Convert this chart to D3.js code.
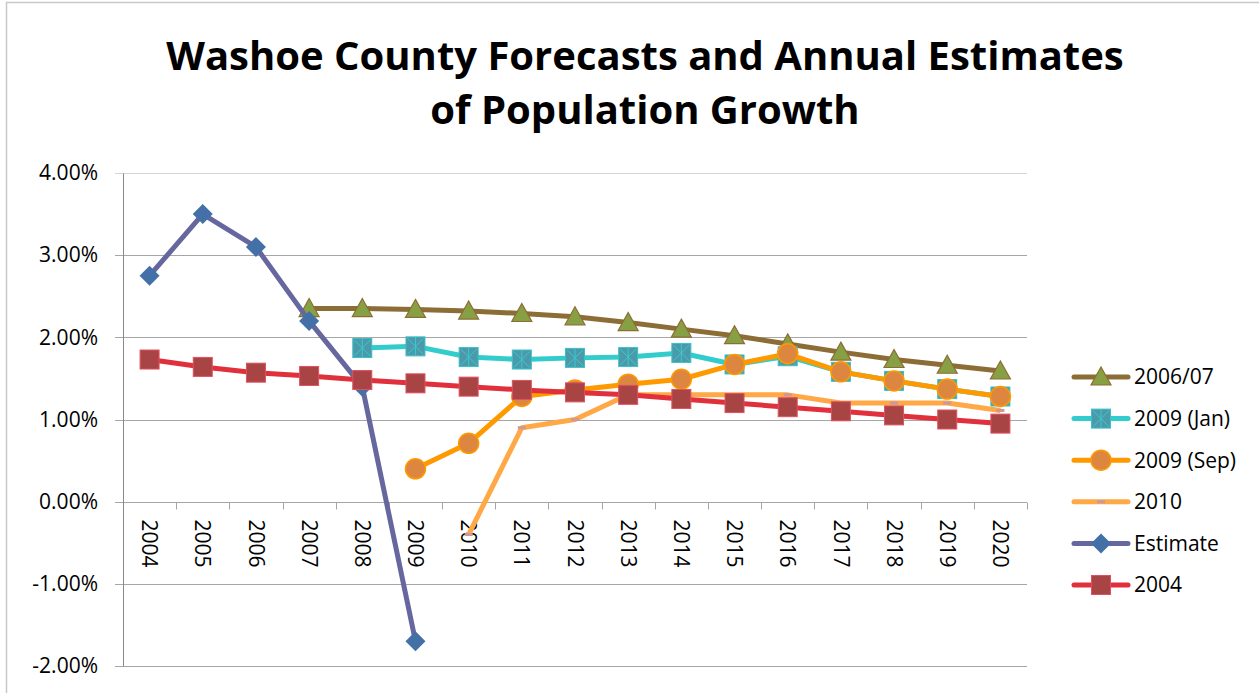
<!DOCTYPE html>
<html>
<head>
<meta charset="utf-8">
<script src="https://cdn.jsdelivr.net/npm/d3@7"></script>
<style>
	body { margin: 0; background: #fff; }
	svg { display: block; font-family: "Open Sans", Lato, sans-serif; }
	.axis text { font-family: "Open Sans", Lato, sans-serif; font-size: 21px; fill: #000; }
	.axis path, .axis line { stroke: #888; }
</style>
</head>
<body>
<svg width="1259" height="693"></svg>
<script>
var years = ["2004","2005","2006","2007","2008","2009","2010","2011","2012","2013","2014","2015","2016","2017","2018","2019","2020"];
var yTicks = [-0.02, -0.01, 0, 0.01, 0.02, 0.03, 0.04];

// null = no value for that year
var s200607 = [null,null,null,2.35,2.35,2.34,2.32,2.29,2.25,2.18,2.10,2.02,1.92,1.82,1.73,1.66,1.59];
var s2009jan = [null,null,null,null,1.87,1.89,1.76,1.73,1.75,1.76,1.81,1.67,1.77,1.58,1.47,1.37,1.28];
var s2009sep = [null,null,null,null,null,0.40,0.71,1.28,1.36,1.43,1.49,1.67,1.80,1.58,1.47,1.37,1.28];
var s2010 = [null,null,null,null,null,null,-0.40,0.90,1.00,1.30,1.30,1.30,1.30,1.20,1.20,1.20,1.11];
var sEstimate = [2.75,3.50,3.10,2.20,1.40,-1.70];
var s2004 = [1.73,1.64,1.57,1.53,1.48,1.44,1.40,1.36,1.33,1.30,1.25,1.20,1.15,1.10,1.05,1.00,0.95];

var series = [
	{ name: "2006/07", values: s200607, line: "#8c6d35", marker: "triangle", fill: "#88a044", stroke: "#8c6d35" },
	{ name: "2009 (Jan)", values: s2009jan, line: "#33cccc", marker: "xsquare", fill: "#4a9aaa", stroke: "#3cc0c8" },
	{ name: "2009 (Sep)", values: s2009sep, line: "#ff9900", marker: "circle", fill: "#dd8640", stroke: "#ff9900" },
	{ name: "2010", values: s2010, line: "#ffa845", marker: "dash", fill: "#cc9999", stroke: "none" },
	{ name: "Estimate", values: sEstimate, line: "#67679f", marker: "diamond", fill: "#4470a8", stroke: "none" },
	{ name: "2004", values: s2004, line: "#e0303c", marker: "square", fill: "#a84444", stroke: "#e05060" }
];

var svg = d3.select("svg");
var margin = { top: 173, left: 123, right: 1027, bottom: 666 };

// chart frame
svg.append("rect")
	.attr("x", 6.5).attr("y", 2.5)
	.attr("width", 1270).attr("height", 700)
	.attr("fill", "none").attr("stroke", "#c8c8c8").attr("stroke-width", 1.5);

// title
var title = svg.append("text")
	.attr("text-anchor", "middle")
	.style("font-size", "40px")
	.style("font-weight", "bold")
	.attr("fill", "#000");
title.append("tspan").attr("x", 645).attr("y", 70).text("Washoe County Forecasts and Annual Estimates");
title.append("tspan").attr("x", 645).attr("y", 124).text("of Population Growth");

var xScale = d3.scaleBand()
	.domain(years)
	.range([margin.left, margin.right]);

var yScale = d3.scaleLinear()
	.domain([-0.02, 0.04])
	.range([margin.bottom, margin.top]);

// gridlines
svg.append("g")
	.selectAll("line")
	.data(yTicks)
	.join("line")
	.attr("x1", margin.left - 8)
	.attr("x2", margin.right)
	.attr("y1", function (d) { return Math.round(yScale(d)) + 0.5; })
	.attr("y2", function (d) { return Math.round(yScale(d)) + 0.5; })
	.attr("stroke", function (d) { return d === 0.04 ? "#d4d4d4" : "#a6a6a6"; })
	.attr("stroke-width", 1.2);

var yAxis = d3.axisLeft(yScale)
	.tickValues(yTicks)
	.tickFormat(function (d) { return (d * 100).toFixed(2) + "%"; })
	.tickSize(0)
	.tickPadding(25);

svg.append("g")
	.attr("class", "axis")
	.attr("transform", "translate(" + margin.left + ",0)")
	.call(yAxis)
	.call(function (g) { g.select(".domain").attr("stroke", "#888"); });

// x axis sitting on the zero line
var y0 = Math.round(yScale(0)) + 0.5;
var xAxis = d3.axisBottom(xScale).tickSize(0).tickSizeOuter(0);
var gx = svg.append("g")
	.attr("class", "axis")
	.attr("transform", "translate(0," + y0 + ")")
	.call(xAxis);
gx.select(".domain").remove();
gx.selectAll("text")
	.attr("transform", "rotate(90)")
	.attr("x", 17)
	.attr("y", 0)
	.attr("dy", "0.35em")
	.style("text-anchor", "start");

// category boundary ticks
svg.append("g")
	.selectAll("line")
	.data(years.slice(1).concat(["end"]))
	.join("line")
	.attr("x1", function (d, i) { return Math.round(margin.left + xScale.step() * (i + 1)) + 0.5; })
	.attr("x2", function (d, i) { return Math.round(margin.left + xScale.step() * (i + 1)) + 0.5; })
	.attr("y1", y0)
	.attr("y2", y0 + 7)
	.attr("stroke", "#a6a6a6");

function xPos(i) { return xScale(years[i]) + xScale.bandwidth() / 2; }
function yPos(v) { return yScale(v / 100); }

var line = d3.line()
	.defined(function (d) { return d != null; })
	.x(function (d, i) { return xPos(i); })
	.y(function (d) { return yPos(d); });

function drawMarker(g, type, s, cx, cy) {
	if (type === "triangle") {
		g.append("path")
			.attr("d", "M" + cx + "," + (cy - 10) + "L" + (cx + 10) + "," + (cy + 8) + "L" + (cx - 10) + "," + (cy + 8) + "Z")
			.attr("fill", s.fill).attr("stroke", s.stroke).attr("stroke-width", 1.2);
	} else if (type === "square" || type === "xsquare") {
		g.append("rect")
			.attr("x", cx - 9.5).attr("y", cy - 9.5).attr("width", 19).attr("height", 19)
			.attr("fill", s.fill).attr("stroke", s.stroke).attr("stroke-width", 1);
		if (type === "xsquare") {
			g.append("path")
				.attr("d", "M" + (cx - 8) + "," + (cy - 8) + "L" + (cx + 8) + "," + (cy + 8) +
					"M" + (cx + 8) + "," + (cy - 8) + "L" + (cx - 8) + "," + (cy + 8) +
					"M" + cx + "," + (cy - 9) + "L" + cx + "," + (cy + 9))
				.attr("stroke", "#3cc8d0").attr("stroke-width", 1).attr("fill", "none");
		}
	} else if (type === "circle") {
		g.append("circle")
			.attr("cx", cx).attr("cy", cy).attr("r", 10)
			.attr("fill", s.fill).attr("stroke", s.stroke).attr("stroke-width", 1.5);
	} else if (type === "diamond") {
		g.append("path")
			.attr("d", "M" + cx + "," + (cy - 10) + "L" + (cx + 10) + "," + cy + "L" + cx + "," + (cy + 10) + "L" + (cx - 10) + "," + cy + "Z")
			.attr("fill", s.fill);
	} else if (type === "dash") {
		g.append("rect")
			.attr("x", cx - 4).attr("y", cy - 1.5).attr("width", 8).attr("height", 3)
			.attr("fill", s.fill);
	}
}

// draw in Excel's stacking order: last legend entry at the bottom
var drawOrder = ["2006/07", "2009 (Jan)", "2009 (Sep)", "2010", "Estimate", "2004"];
drawOrder.forEach(function (name) {
	var s = series.find(function (d) { return d.name === name; });
	var g = svg.append("g");
	g.append("path")
		.datum(s.values)
		.attr("fill", "none")
		.attr("stroke", s.line)
		.attr("stroke-width", 5)
		.attr("stroke-linejoin", "round")
		.attr("d", line);
	s.values.forEach(function (v, i) {
		if (v == null) return;
		drawMarker(g, s.marker, s, xPos(i), yPos(v));
	});
});

// legend
var legend = svg.append("g").attr("transform", "translate(1074,377)");
series.forEach(function (s, i) {
	var row = legend.append("g").attr("transform", "translate(0," + (i * 41.6) + ")");
	row.append("line")
		.attr("x1", 0).attr("x2", 54).attr("y1", 0).attr("y2", 0)
		.attr("stroke", s.line).attr("stroke-width", 5).attr("stroke-linecap", "round");
	drawMarker(row, s.marker, s, 27, 0);
	row.append("text")
		.attr("x", 60).attr("y", 0).attr("dy", "0.35em")
		.style("font-size", "21px")
		.text(s.name);
});
</script>
</body>
</html>
